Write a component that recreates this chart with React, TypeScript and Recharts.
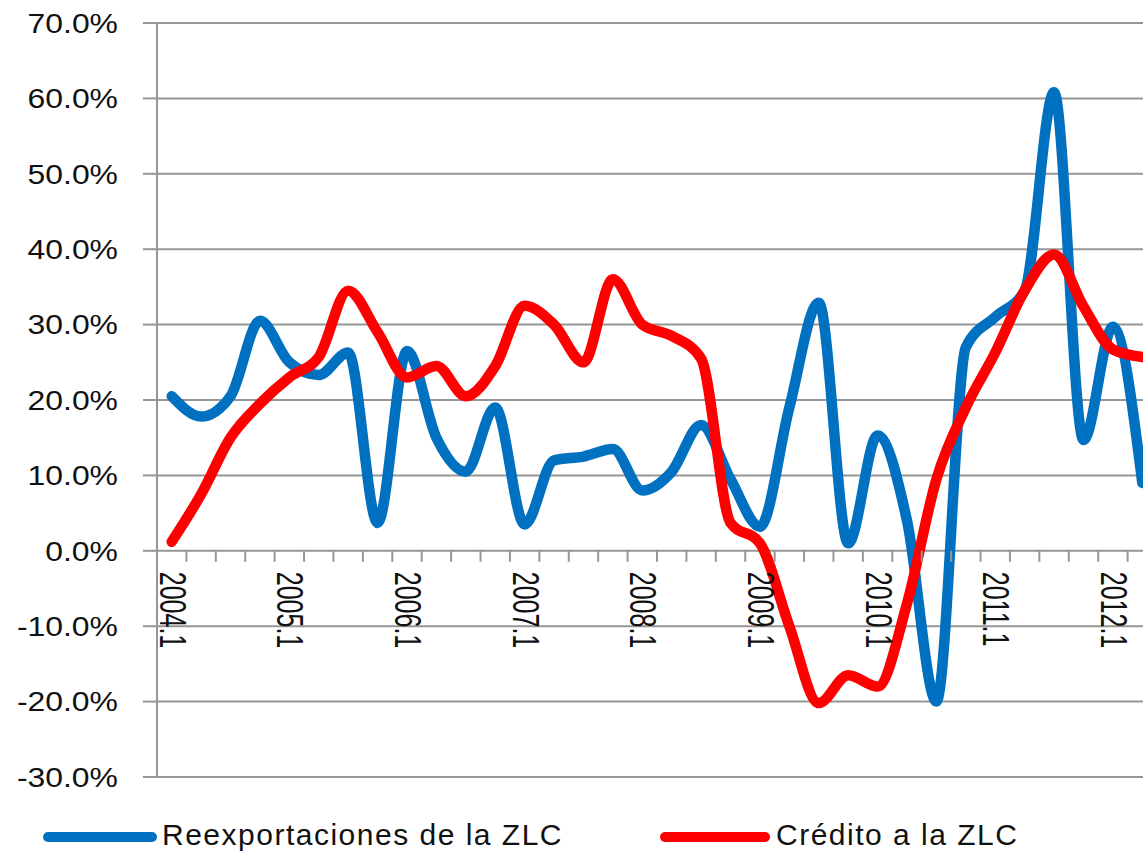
import React from 'react';
import { LineChart, Line, XAxis, YAxis, CartesianGrid } from 'recharts';

const quarters = [
  '2004.1', '2004.2', '2004.3', '2004.4',
  '2005.1', '2005.2', '2005.3', '2005.4',
  '2006.1', '2006.2', '2006.3', '2006.4',
  '2007.1', '2007.2', '2007.3', '2007.4',
  '2008.1', '2008.2', '2008.3', '2008.4',
  '2009.1', '2009.2', '2009.3', '2009.4',
  '2010.1', '2010.2', '2010.3', '2010.4',
  '2011.1', '2011.2', '2011.3', '2011.4',
  '2012.1', '2012.2',
];

// tasas de crecimiento (%)
const reexportaciones = [
  20.5, 17.8, 20.5, 30.5, 25, 23.3, 26.3, 3.7,
  26.5, 15, 10.5, 19, 3.5, 12, 12.5, 13.5,
  8, 10.5, 16.7, 9.5, 3.2, 19, 32.9, 1,
  15.3, 4, -20, 27, 31, 34.5, 60.8, 14.7,
  29.7, 9,
];

const credito = [
  1.2, 7.5, 15, 19.5, 23, 25.7, 34.5, 29,
  23, 24.5, 20.5, 24.5, 32.5, 30, 25, 36,
  30, 28.5, 25.5, 3.7, 1, -10, -20.2, -16.5,
  -18, -7, 9.5, 19, 26.3, 34.5, 39.3, 32.4,
  26.7, 25.7,
];

const yTicks = [-30, -20, -10, 0, 10, 20, 30, 40, 50, 60, 70];
const seriesNames = ['Reexportaciones de la ZLC', 'Crédito a la ZLC'];
const seriesColors = ['#0070C0', '#FF0000'];

const data = quarters.map((q, i) => ({
  q,
  reexp: reexportaciones[i],
  cred: credito[i],
}));

const FONT = '"Liberation Sans", Arial, sans-serif';
const GRID = '#969696';
const CHART_W = 1160;
const CHART_H = 810;
const MARGIN = { top: 23, right: 3, bottom: 3, left: 0 };
const Y_AXIS_W = 157;
const X_AXIS_H = 30;
const PLOT_W = CHART_W - MARGIN.left - MARGIN.right - Y_AXIS_W;
const PLOT_H = CHART_H - MARGIN.top - MARGIN.bottom - X_AXIS_H;
const BAND = PLOT_W / quarters.length;
const Y_MIN = yTicks[0];
const Y_MAX = yTicks[yTicks.length - 1];
// the category axis crosses at 0, not at the bottom of the plot
const ZERO_OFFSET = (PLOT_H * (0 - Y_MIN)) / (Y_MAX - Y_MIN);

const XTick = (props: any) => {
  const { x, y, payload } = props;
  const index = props.index ?? payload.index;
  const y0 = y - ZERO_OFFSET;
  return (
    <g>
      <line x1={x + BAND / 2} x2={x + BAND / 2} y1={y0} y2={y0 + 11} stroke={GRID} strokeWidth={2} />
      {index % 4 === 0 && (
        <text
          transform={`translate(${x + 1},${y0 + 21}) rotate(90) scale(1,1.5)`}
          dominantBaseline="central"
          fontSize={25}
          fontFamily={FONT}
          fill="#111"
        >
          {payload.value}
        </text>
      )}
    </g>
  );
};

const YTick = (props: any) => {
  const { x, y, payload } = props;
  return (
    <text
      transform={`translate(${x},${y}) scale(1.14,1)`}
      textAnchor="end"
      dominantBaseline="central"
      fontSize={28}
      fontFamily={FONT}
      fill="#111"
    >
      {`${payload.value.toFixed(1)}%`}
    </text>
  );
};

const LegendItem = ({ left, lineW, textLeft, color, name }: any) => (
  <>
    <div
      style={{
        position: 'absolute', left, top: 832, width: lineW, height: 10,
        borderRadius: 5, background: color,
      }}
    />
    <div
      style={{
        position: 'absolute', left: textLeft, top: 820, fontFamily: FONT,
        fontSize: 30, lineHeight: '30px', color: '#111', whiteSpace: 'nowrap',
        letterSpacing: '1.5px',
      }}
    >
      {name}
    </div>
  </>
);

export default function App() {
  return (
    <div
      style={{
        position: 'absolute', left: 0, top: 0, width: 1143, height: 853,
        overflow: 'hidden', background: '#fff',
      }}
    >
      <LineChart width={CHART_W} height={CHART_H} data={data} margin={MARGIN}>
        <CartesianGrid vertical={false} stroke={GRID} strokeWidth={2} />
        <XAxis
          dataKey="q"
          interval={0}
          height={X_AXIS_H}
          padding={{ left: BAND / 2, right: BAND / 2 }}
          axisLine={false}
          tickLine={false}
          tickSize={0}
          tickMargin={0}
          tick={<XTick />}
        />
        <YAxis
          width={Y_AXIS_W}
          domain={[Y_MIN, Y_MAX]}
          ticks={yTicks}
          interval={0}
          axisLine={{ stroke: GRID, strokeWidth: 2 }}
          tickLine={{ stroke: GRID, strokeWidth: 2 }}
          tickSize={14}
          tickMargin={25}
          tick={<YTick />}
        />
        <Line
          type="monotone"
          dataKey="reexp"
          name={seriesNames[0]}
          stroke={seriesColors[0]}
          strokeWidth={10.5}
          strokeLinecap="round"
          strokeLinejoin="round"
          dot={false}
          isAnimationActive={false}
        />
        <Line
          type="monotone"
          dataKey="cred"
          name={seriesNames[1]}
          stroke={seriesColors[1]}
          strokeWidth={10.5}
          strokeLinecap="round"
          strokeLinejoin="round"
          dot={false}
          isAnimationActive={false}
        />
      </LineChart>
      <LegendItem left={43} lineW={114} textLeft={162} color={seriesColors[0]} name={seriesNames[0]} />
      <LegendItem left={660} lineW={110} textLeft={776} color={seriesColors[1]} name={seriesNames[1]} />
    </div>
  );
}
